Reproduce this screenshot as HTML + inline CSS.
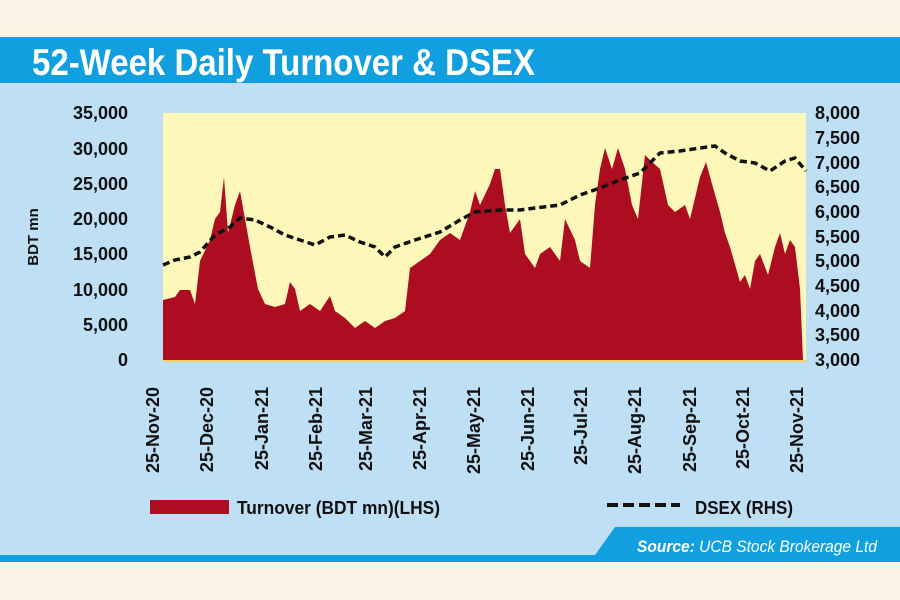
<!DOCTYPE html>
<html><head><meta charset="utf-8"><style>
html,body{margin:0;padding:0;background:#fdf3e8;}
svg{display:block;}
text{font-family:"Liberation Sans",Arial,sans-serif;font-weight:bold;}
</style></head><body>
<svg width="900" height="600" viewBox="0 0 900 600" xmlns="http://www.w3.org/2000/svg">
<rect x="0" y="0" width="900" height="600" fill="#fdf3e8"/>
<rect x="0" y="37" width="900" height="525" fill="#bfdff5"/>
<rect x="0" y="37" width="900" height="46" fill="#129fe0"/>
<text x="32" y="75" fill="#fff" font-size="37" textLength="503" lengthAdjust="spacingAndGlyphs">52-Week Daily Turnover &amp; DSEX</text>
<polygon points="615,527 900,527 900,562 590,562" fill="#129fe0"/>
<rect x="0" y="555" width="900" height="7" fill="#129fe0"/>
<text x="637" y="552" fill="#fff" font-size="17" font-style="italic" textLength="240" lengthAdjust="spacingAndGlyphs">Source: <tspan font-weight="normal">UCB Stock Brokerage Ltd</tspan></text>
<rect x="163" y="113" width="643" height="247" fill="#fdf8b9"/>
<rect x="163" y="360" width="643" height="2" fill="#f0d36a"/>
<path fill="#ac0d21" d="M163,360 L163,300 L175,297 L180,290 L190,290 L195,304 L200,261 L210,240 L215,219 L220,212 L224,177 L228,233 L235,205 L240,191 L245,219 L250,247 L258,289 L265,304 L275,307 L285,304 L290,282 L295,289 L300,311 L310,304 L320,311 L330,296 L335,311 L345,318 L355,328 L365,321 L375,328 L385,321 L395,318 L405,311 L410,268 L420,261 L430,254 L440,240 L450,233 L460,240 L470,212 L475,191 L480,205 L490,184 L495,169 L500,169 L505,205 L510,233 L520,219 L525,254 L535,268 L540,254 L550,247 L560,261 L565,219 L575,240 L580,261 L590,268 L595,205 L600,169 L605,148 L612,169 L618,148 L625,169 L632,205 L638,219 L645,155 L652,162 L660,169 L668,205 L675,212 L685,205 L690,219 L700,177 L706,162 L712,184 L720,212 L725,233 L730,247 L740,282 L745,275 L750,289 L755,261 L760,254 L768,275 L775,247 L780,233 L785,254 L790,240 L795,247 L800,289 L803,360 Z"/>
<path fill="none" stroke="#111" stroke-width="3.5" stroke-dasharray="7,4" d="M163,265 L175,260 L190,257 L200,252 L215,235 L230,227 L240,218 L255,220 L270,227 L285,235 L300,240 L315,245 L330,237 L345,235 L360,242 L375,247 L385,257 L395,247 L415,240 L440,232 L460,220 L475,212 L500,210 L520,210 L535,208 L560,205 L580,195 L600,188 L620,180 L640,173 L660,153 L680,151 L700,148 L715,146 L725,153 L740,161 L755,163 L770,171 L785,161 L795,158 L806,171"/>
<g font-size="18" fill="#111" text-anchor="end">
<text x="128" y="119">35,000</text><text x="128" y="155">30,000</text><text x="128" y="190">25,000</text><text x="128" y="225">20,000</text><text x="128" y="260">15,000</text><text x="128" y="296">10,000</text><text x="128" y="331">5,000</text><text x="128" y="366">0</text>
</g>
<g font-size="18" fill="#111">
<text x="815" y="119">8,000</text><text x="815" y="144">7,500</text><text x="815" y="169">7,000</text><text x="815" y="193">6,500</text><text x="815" y="218">6,000</text><text x="815" y="243">5,500</text><text x="815" y="267">5,000</text><text x="815" y="292">4,500</text><text x="815" y="317">4,000</text><text x="815" y="341">3,500</text><text x="815" y="366">3,000</text>
</g>
<text x="38" y="237" font-size="15" fill="#111" text-anchor="middle" transform="rotate(-90 38 237)">BDT mn</text>
<g font-size="18" fill="#111" text-anchor="end">
<text transform="translate(159 387) rotate(-90)">25-Nov-20</text>
<text transform="translate(213 387) rotate(-90)">25-Dec-20</text>
<text transform="translate(268 387) rotate(-90)">25-Jan-21</text>
<text transform="translate(322 387) rotate(-90)">25-Feb-21</text>
<text transform="translate(372 387) rotate(-90)">25-Mar-21</text>
<text transform="translate(426 387) rotate(-90)">25-Apr-21</text>
<text transform="translate(480 387) rotate(-90)">25-May-21</text>
<text transform="translate(534 387) rotate(-90)">25-Jun-21</text>
<text transform="translate(587 387) rotate(-90)">25-Jul-21</text>
<text transform="translate(641 387) rotate(-90)">25-Aug-21</text>
<text transform="translate(696 387) rotate(-90)">25-Sep-21</text>
<text transform="translate(749 387) rotate(-90)">25-Oct-21</text>
<text transform="translate(803 387) rotate(-90)">25-Nov-21</text>
</g>
<rect x="150" y="500" width="79" height="14" fill="#ac0d21"/>
<text x="237" y="514" font-size="18" fill="#111" textLength="203" lengthAdjust="spacingAndGlyphs">Turnover (BDT mn)(LHS)</text>
<line x1="607" y1="505" x2="680" y2="505" stroke="#111" stroke-width="4" stroke-dasharray="11,5"/>
<text x="695" y="514" font-size="18" fill="#111" textLength="98" lengthAdjust="spacingAndGlyphs">DSEX (RHS)</text>
</svg>
</body></html>
